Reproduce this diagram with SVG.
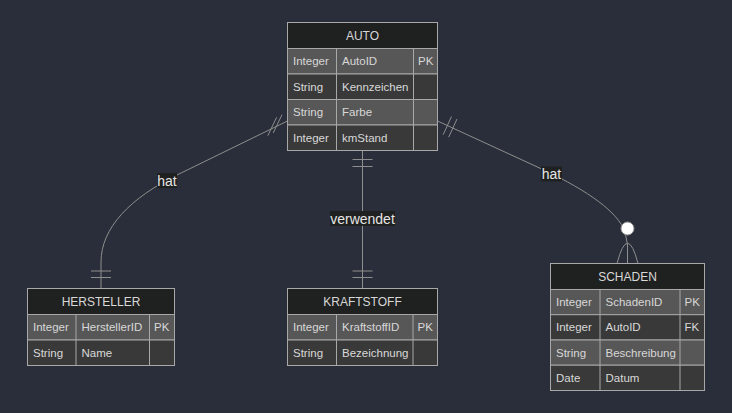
<svg xmlns="http://www.w3.org/2000/svg" width="732" height="413" viewBox="0 0 732 413">
<style>
.bg{fill:#2a2e3a}
.hdr{fill:#1f2020;stroke:#a8a8a8;stroke-width:1}
.odd{fill:#575757;stroke:#a8a8a8;stroke-width:1}
.even{fill:#393939;stroke:#a8a8a8;stroke-width:1}
.col{stroke:#a8a8a8;stroke-width:1}
text{font-family:"Liberation Sans",Arial,sans-serif;fill:#d8d8d8;dominant-baseline:central}
.h{font-size:12px;text-anchor:middle}
.a{font-size:11.5px}
.edge{fill:none;stroke:#8e8e8e;stroke-width:1}
.tick{stroke:#8e8e8e;stroke-width:1}
.lblbg{fill:#1f2020}
.lbl{font-size:14px;text-anchor:middle;fill:#e6e6e6}
</style>
<rect class="bg" x="0" y="0" width="732" height="413"/>

<g id="connectors">
  <!-- AUTO - HERSTELLER -->
  <path class="edge" d="M287.5,121 L178,174.5 C130,198 101,228 101,262 L101,288.5"/>
  <line class="tick" x1="282" y1="114.7" x2="273.2" y2="133"/>
  <line class="tick" x1="276.6" y1="117.4" x2="267.8" y2="135.7"/>
  <line class="tick" x1="91" y1="277.5" x2="111" y2="277.5"/>
  <line class="tick" x1="91" y1="271" x2="111" y2="271"/>
  <rect class="lblbg" x="157" y="173" width="20" height="15"/>
  <text class="lbl" x="167" y="180.5">hat</text>

  <!-- AUTO - KRAFTSTOFF -->
  <line class="edge" x1="362.5" y1="150.5" x2="362.5" y2="288.5"/>
  <line class="tick" x1="352.5" y1="159.5" x2="372.5" y2="159.5"/>
  <line class="tick" x1="352.5" y1="166.5" x2="372.5" y2="166.5"/>
  <line class="tick" x1="352.5" y1="271" x2="372.5" y2="271"/>
  <line class="tick" x1="352.5" y1="277.5" x2="372.5" y2="277.5"/>
  <rect class="lblbg" x="330" y="211" width="65" height="15"/>
  <text class="lbl" x="362.5" y="218.5">verwendet</text>

  <!-- AUTO - SCHADEN -->
  <path class="edge" d="M437.5,121 L545,170.5 C588,191 618,212 625,232 L627.5,245 L627.5,263.5"/>
  <line class="tick" x1="451.5" y1="116.5" x2="443.2" y2="134.7"/>
  <line class="tick" x1="457" y1="119" x2="448.7" y2="137.2"/>
  <path class="edge" d="M617,263.5 Q627.5,223 638,263.5"/>
  <circle cx="627.5" cy="228.5" r="6.5" fill="#ffffff" stroke="#8e8e8e" stroke-width="1"/>
  <rect class="lblbg" x="541" y="166.5" width="21" height="15"/>
  <text class="lbl" x="551.5" y="174">hat</text>
</g>

<g id="AUTO">
  <rect class="hdr" x="287.5" y="22.5" width="150" height="26"/>
  <text class="h" x="362.5" y="35.5">AUTO</text>
  <rect class="odd" x="287.5" y="48.5" width="150" height="25.5"/>
  <rect class="even" x="287.5" y="74" width="150" height="25.5"/>
  <rect class="odd" x="287.5" y="99.5" width="150" height="25.5"/>
  <rect class="even" x="287.5" y="125" width="150" height="25.5"/>
  <line class="col" x1="336.5" y1="48.5" x2="336.5" y2="150.5"/>
  <line class="col" x1="413.5" y1="48.5" x2="413.5" y2="150.5"/>
  <text class="a" x="293" y="61.3">Integer</text><text class="a" x="342" y="61.3">AutoID</text><text class="a" x="418" y="61.3">PK</text>
  <text class="a" x="293" y="86.8">String</text><text class="a" x="342" y="86.8">Kennzeichen</text>
  <text class="a" x="293" y="112.3">String</text><text class="a" x="342" y="112.3">Farbe</text>
  <text class="a" x="293" y="137.8">Integer</text><text class="a" x="342" y="137.8">kmStand</text>
</g>

<g id="HERSTELLER">
  <rect class="hdr" x="27.5" y="288.5" width="147" height="26"/>
  <text class="h" x="101" y="301.5">HERSTELLER</text>
  <rect class="odd" x="27.5" y="314.5" width="147" height="25.5"/>
  <rect class="even" x="27.5" y="340" width="147" height="25.5"/>
  <line class="col" x1="76" y1="314.5" x2="76" y2="365.5"/>
  <line class="col" x1="149.5" y1="314.5" x2="149.5" y2="365.5"/>
  <text class="a" x="33" y="327.3">Integer</text><text class="a" x="81.5" y="327.3">HerstellerID</text><text class="a" x="154" y="327.3">PK</text>
  <text class="a" x="33" y="352.8">String</text><text class="a" x="81.5" y="352.8">Name</text>
</g>

<g id="KRAFTSTOFF">
  <rect class="hdr" x="287.5" y="288.5" width="150" height="26"/>
  <text class="h" x="362.5" y="301.5">KRAFTSTOFF</text>
  <rect class="odd" x="287.5" y="314.5" width="150" height="25.5"/>
  <rect class="even" x="287.5" y="340" width="150" height="25.5"/>
  <line class="col" x1="336.5" y1="314.5" x2="336.5" y2="365.5"/>
  <line class="col" x1="413" y1="314.5" x2="413" y2="365.5"/>
  <text class="a" x="293" y="327.3">Integer</text><text class="a" x="342" y="327.3">KraftstoffID</text><text class="a" x="417.5" y="327.3">PK</text>
  <text class="a" x="293" y="352.8">String</text><text class="a" x="342" y="352.8">Bezeichnung</text>
</g>

<g id="SCHADEN">
  <rect class="hdr" x="550.5" y="263.5" width="154" height="26"/>
  <text class="h" x="627.5" y="276.5">SCHADEN</text>
  <rect class="odd" x="550.5" y="289.5" width="154" height="25.2"/>
  <rect class="even" x="550.5" y="314.7" width="154" height="25.3"/>
  <rect class="odd" x="550.5" y="340" width="154" height="25.2"/>
  <rect class="even" x="550.5" y="365.2" width="154" height="25.3"/>
  <line class="col" x1="600" y1="289.5" x2="600" y2="390.5"/>
  <line class="col" x1="680" y1="289.5" x2="680" y2="390.5"/>
  <text class="a" x="556" y="302.1">Integer</text><text class="a" x="605.5" y="302.1">SchadenID</text><text class="a" x="684.5" y="302.1">PK</text>
  <text class="a" x="556" y="327.3">Integer</text><text class="a" x="605.5" y="327.3">AutoID</text><text class="a" x="684.5" y="327.3">FK</text>
  <text class="a" x="556" y="352.6">String</text><text class="a" x="605.5" y="352.6">Beschreibung</text>
  <text class="a" x="556" y="377.8">Date</text><text class="a" x="605.5" y="377.8">Datum</text>
</g>
</svg>
